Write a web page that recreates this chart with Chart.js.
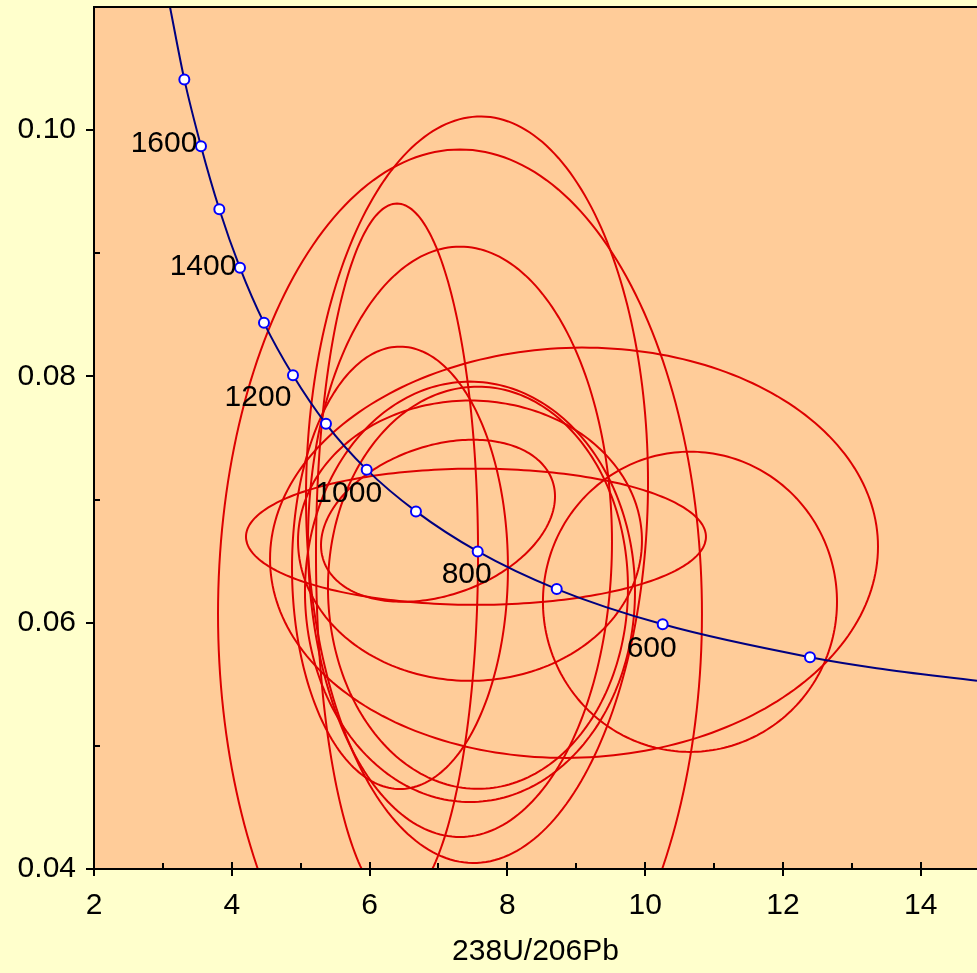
<!DOCTYPE html>
<html>
<head>
<meta charset="utf-8">
<script src="https://cdn.jsdelivr.net/npm/chart.js@4.4.0/dist/chart.umd.min.js"></script>
<style>
  html, body { margin: 0; padding: 0; background: #ffffcc; }
</style>
</head>
<body>
<canvas id="chart" width="977" height="973"></canvas>
<script>
// Concordia curve
const concordiaX = [3.103, 3.311, 3.553, 3.819, 4.119, 4.467, 4.888, 5.367, 5.958, 6.673, 7.569, 8.716, 10.254, 12.392, 13.36, 14.816];
const concordiaY = [0.1100, 0.10412, 0.0987, 0.09358, 0.08882, 0.08435, 0.08009, 0.07615, 0.07243, 0.06904, 0.06579, 0.06273, 0.05987, 0.0572, 0.05631, 0.05528];

// Age markers on the curve (Ma)
const markerAges = [1700, 1600, 1500, 1400, 1300, 1200, 1100, 1000, 900, 800, 700, 600, 500];
const markerX = [3.311, 3.553, 3.819, 4.119, 4.467, 4.888, 5.367, 5.958, 6.673, 7.569, 8.716, 10.254, 12.392];
const markerY = [0.10412, 0.0987, 0.09358, 0.08882, 0.08435, 0.08009, 0.07615, 0.07243, 0.06904, 0.06579, 0.06273, 0.05987, 0.0572];
const labelledAges = [1600, 1400, 1200, 1000, 800, 600];

// Error ellipses: centre, half-extent in x and y, correlation
const ellipseX   = [7.559, 7.312, 6.398, 7.312, 6.441, 7.457, 7.573, 8.967, 7.544, 10.650, 6.993, 7.457];
const ellipseY   = [0.07080, 0.06072, 0.0656, 0.06657, 0.06446, 0.06251, 0.06284, 0.06568, 0.06698, 0.0617, 0.06828, 0.06666];
const ellipseSx  = [2.482, 3.512, 1.176, 2.206, 1.567, 2.395, 2.177, 4.412, 3.338, 2.134, 1.698, 2.496];
const ellipseSy  = [0.03031, 0.03771, 0.02844, 0.02397, 0.01796, 0.01707, 0.01633, 0.01666, 0.00553, 0.01219, 0.00658, 0.01138];
const ellipseRho = [0.02, 0, 0, 0, 0, 0, 0, 0.03, 0, 0, 0.3, 0];

// Axis ticks
const xTicks = [2, 4, 6, 8, 10, 12, 14];
const xMinorTicks = [3, 5, 7, 9, 11, 13];
const yTicks = [0.04, 0.06, 0.08, 0.10];
const yMinorTicks = [0.05, 0.07, 0.09];

// label offsets in pixels from the marker (style only)
const labelOffsets = {1600: [-37, -2], 1400: [-37, -1], 1200: [-35, 22], 1000: [-18, 24], 800: [-11, 23], 600: [-11, 24]};

const FONT = '"Liberation Sans", Arial, sans-serif';

const backgroundPlugin = {
    id: 'background',
    beforeDraw(chart) {
        const { ctx, chartArea: a } = chart;
        ctx.save();
        ctx.fillStyle = '#ffffcc';
        ctx.fillRect(0, 0, chart.width, chart.height);
        ctx.fillStyle = '#ffcc99';
        ctx.fillRect(a.left, a.top, a.right - a.left, a.bottom - a.top);
        ctx.restore();
    }
};

const ellipsePlugin = {
    id: 'ellipses',
    beforeDatasetsDraw(chart) {
        const { ctx, chartArea: a, scales: { x, y } } = chart;
        ctx.save();
        ctx.beginPath();
        ctx.rect(a.left, a.top, a.right - a.left, a.bottom - a.top);
        ctx.clip();
        ctx.strokeStyle = '#dd0000';
        ctx.lineWidth = 2;
        ellipseX.forEach((cx, i) => {
            const sx = ellipseSx[i], sy = ellipseSy[i], r = ellipseRho[i];
            ctx.beginPath();
            for (let k = 0; k <= 240; k++) {
                const t = k / 240 * Math.PI * 2;
                const px = x.getPixelForValue(cx + sx * Math.cos(t));
                const py = y.getPixelForValue(ellipseY[i] + sy * (r * Math.cos(t) + Math.sqrt(1 - r * r) * Math.sin(t)));
                if (k === 0) ctx.moveTo(px, py); else ctx.lineTo(px, py);
            }
            ctx.closePath();
            ctx.stroke();
        });
        ctx.restore();
    }
};

const framePlugin = {
    id: 'frame',
    afterDatasetsDraw(chart) {
        const { ctx, chartArea: a, scales: { x, y } } = chart;
        ctx.save();
        ctx.strokeStyle = '#000';
        ctx.lineWidth = 2;
        ctx.beginPath();
        ctx.moveTo(a.right + 2, a.top);
        ctx.lineTo(a.left, a.top);
        ctx.lineTo(a.left, a.bottom);
        ctx.lineTo(a.right + 2, a.bottom);
        ctx.stroke();

        ctx.beginPath();
        xTicks.forEach(v => {
            const px = Math.round(x.getPixelForValue(v));
            ctx.moveTo(px, a.bottom - 7);
            ctx.lineTo(px, a.bottom + 7);
        });
        xMinorTicks.forEach(v => {
            const px = Math.round(x.getPixelForValue(v));
            ctx.moveTo(px, a.bottom - 6);
            ctx.lineTo(px, a.bottom);
        });
        yTicks.forEach(v => {
            const py = Math.round(y.getPixelForValue(v));
            ctx.moveTo(a.left - 8, py);
            ctx.lineTo(a.left, py);
        });
        yMinorTicks.forEach(v => {
            const py = Math.round(y.getPixelForValue(v));
            ctx.moveTo(a.left, py);
            ctx.lineTo(a.left + 6, py);
        });
        ctx.stroke();

        // age labels
        ctx.fillStyle = '#000';
        ctx.font = '30px ' + FONT;
        ctx.textAlign = 'center';
        ctx.textBaseline = 'middle';
        labelledAges.forEach(age => {
            const i = markerAges.indexOf(age);
            const off = labelOffsets[age];
            ctx.fillText(String(age), x.getPixelForValue(markerX[i]) + off[0], y.getPixelForValue(markerY[i]) + off[1]);
        });
        ctx.restore();
    }
};

const ctx = document.getElementById('chart').getContext('2d');
new Chart(ctx, {
    type: 'scatter',
    data: {
        datasets: [
            {
                data: markerX.map((v, i) => ({ x: v, y: markerY[i] })),
                pointRadius: 5,
                pointBorderWidth: 2,
                pointBackgroundColor: '#ffffff',
                pointBorderColor: '#0000ff',
                showLine: false
            },
            {
                data: concordiaX.map((v, i) => ({ x: v, y: concordiaY[i] })),
                showLine: true,
                borderColor: '#000080',
                borderWidth: 2,
                pointRadius: 0,
                cubicInterpolationMode: 'monotone'
            }
        ]
    },
    options: {
        responsive: false,
        animation: false,
        layout: { autoPadding: false, padding: { top: 7, left: 0, right: 0, bottom: 0 } },
        plugins: {
            legend: { display: false },
            tooltip: { enabled: false }
        },
        scales: {
            x: {
                type: 'linear',
                min: 2,
                max: 14.816,
                afterBuildTicks: s => { s.ticks = xTicks.map(v => ({ value: v })); },
                afterFit: s => { s.height = 104; s.paddingLeft = 0; s.paddingRight = 0; },
                grid: { display: false, drawTicks: false },
                border: { display: false },
                ticks: {
                    autoSkip: false,
                    maxRotation: 0,
                    padding: 19,
                    color: '#000',
                    font: { size: 30, family: FONT }
                },
                title: {
                    display: true,
                    text: '238U/206Pb',
                    color: '#000',
                    font: { size: 30, family: FONT },
                    padding: { top: 0, bottom: 3 }
                }
            },
            y: {
                type: 'linear',
                min: 0.04,
                max: 0.11,
                afterBuildTicks: s => { s.ticks = yTicks.map(v => ({ value: v })); },
                afterFit: s => { s.width = 94; s.paddingTop = 0; s.paddingBottom = 0; },
                grid: { display: false, drawTicks: false },
                border: { display: false },
                ticks: {
                    padding: 18,
                    color: '#000',
                    font: { size: 30, family: FONT },
                    callback: v => v.toFixed(2)
                }
            }
        }
    },
    plugins: [backgroundPlugin, ellipsePlugin, framePlugin]
});
</script>
</body>
</html>
